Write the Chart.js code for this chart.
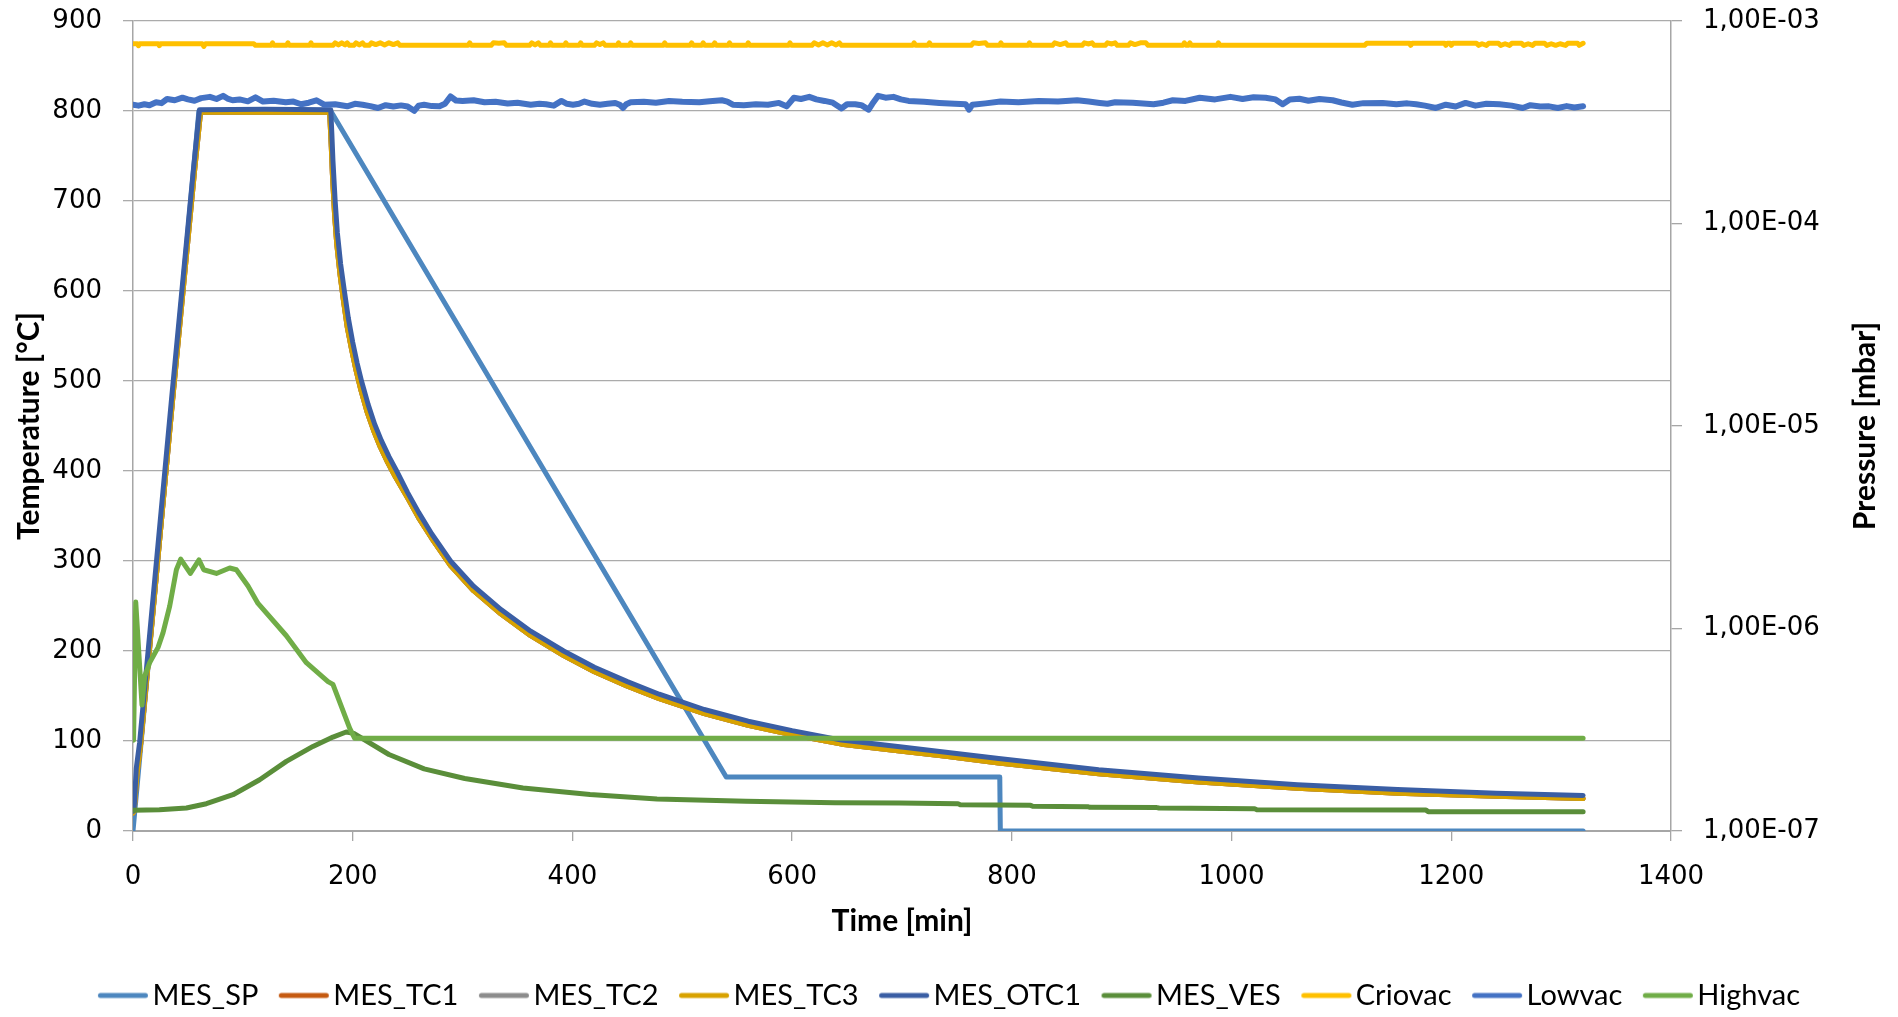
<!DOCTYPE html>
<html>
<head>
<meta charset="utf-8">
<title>Furnace cycle</title>
<script src="https://cdn.jsdelivr.net/npm/chart.js@4.4.1/dist/chart.umd.min.js"></script>
<style>
  html, body { margin: 0; padding: 0; background: #fff; }
  canvas { display: block; }
</style>
</head>
<body>
<canvas id="cycle" width="1898" height="1017"></canvas>
<script>
// Furnace run: temperatures on the left axis (°C), chamber pressures on a log right axis (mbar)

const seriesNames = ['MES_SP', 'MES_TC1', 'MES_TC2', 'MES_TC3', 'MES_OTC1', 'MES_VES', 'Criovac', 'Lowvac', 'Highvac'];
const timeTicks = [0, 200, 400, 600, 800, 1000, 1200, 1400];
const tempTicks = [0, 100, 200, 300, 400, 500, 600, 700, 800, 900];
const pressureTicks = [1e-7, 1e-6, 1e-5, 1e-4, 1e-3];

// every series is a list of [time in min, value]
const mesSP = [[0, 0], [60, 800], [180, 800], [540, 60], [789, 60], [789.5, 0], [1320, 0]];

// TC1..TC3 read the same, so they share one trace
const mesTC = [[0, 20], [1, 22], [3.5, 62], [7, 97], [36, 478], [56, 733], [61.5, 798.5], [179, 798.5],
  [180.5, 760], [181.5, 730], [183.5, 685], [185.5, 652], [188.5, 618], [191.5, 590], [195, 560],
  [199, 535], [203, 512], [207, 492], [213, 466], [219, 445], [225, 427], [232, 409], [239, 393],
  [250, 370], [260, 348], [272, 325], [289, 295], [310, 267], [335, 241], [362, 217], [392, 195],
  [420, 177], [450, 161], [479, 147], [520, 130.5], [560, 117.5], [600, 107], [645, 96.5], [698, 89],
  [740, 83], [788, 75.5], [879, 63.5], [970, 54.5], [1060, 47.5], [1151, 42], [1241, 38.5], [1320, 36]];

const mesOTC1 = [[0, 22], [1, 25], [3, 70], [6, 98], [35, 479], [55, 735], [60.5, 801.5], [120, 802],
  [180, 801.5], [181, 775], [182, 745], [184, 700], [186, 665], [189, 630], [192.4, 600], [196, 570],
  [200, 543], [204, 520], [208, 500], [214, 474], [220, 452], [226, 434], [233, 416], [240, 400],
  [250, 376], [260, 354], [272, 330], [289, 300], [310, 272], [335, 246], [362, 222], [392, 200],
  [420, 182], [450, 166], [479, 152], [520, 135], [560, 122], [600, 111.5], [645, 101], [698, 93.5],
  [740, 87.5], [788, 80.5], [879, 68], [970, 59], [1060, 51.5], [1151, 46], [1241, 42], [1320, 39.5]];

const mesVES = [[0, 23], [24, 23.5], [48.6, 25.5], [66.8, 30.3], [91, 40.3], [115.3, 57], [139.6, 77.4],
  [163.8, 94], [182, 104.4], [194, 110], [201, 108.5], [233, 85], [265, 69], [302, 58.3], [355, 47.8],
  [416, 40.5], [477, 35.5], [558, 33], [639, 31.5], [698, 31], [751, 30.3], [753, 29.2], [817, 28.5],
  [819, 27.4], [869, 27], [871, 26.3], [932, 26], [934, 25.5], [1021, 24.8], [1023, 23.7], [1177, 23.2],
  [1179, 21.5], [1320, 21.5]];

const criovac = [[0, 7.72e-4], [4, 7.72e-4], [5, 7.55e-4], [6, 7.72e-4], [23, 7.72e-4], [24, 7.56e-4],
  [25, 7.72e-4], [63, 7.72e-4], [64.5, 7.5e-4], [66, 7.72e-4], [110, 7.72e-4], [111.5, 7.58e-4],
  [126, 7.58e-4], [127, 7.8e-4], [128, 7.58e-4], [140, 7.58e-4], [141, 7.8e-4], [142, 7.58e-4],
  [161, 7.58e-4], [162, 7.8e-4], [163, 7.58e-4], [182, 7.58e-4], [184, 7.8e-4], [187, 7.62e-4],
  [190, 7.8e-4], [193, 7.62e-4], [195, 7.8e-4], [197, 7.58e-4], [201, 7.58e-4], [203, 7.8e-4],
  [206, 7.62e-4], [209, 7.8e-4], [211, 7.58e-4], [215, 7.58e-4], [217, 7.8e-4], [221, 7.65e-4],
  [225, 7.8e-4], [229, 7.62e-4], [233, 7.8e-4], [237, 7.65e-4], [241, 7.8e-4], [243, 7.58e-4],
  [305, 7.58e-4], [306.5, 7.8e-4], [308, 7.58e-4], [326, 7.58e-4], [328, 7.8e-4], [333, 7.76e-4],
  [338, 7.8e-4], [340, 7.58e-4], [361, 7.58e-4], [363, 7.8e-4], [366, 7.62e-4], [369, 7.8e-4],
  [371, 7.58e-4], [379, 7.58e-4], [380, 7.8e-4], [381.5, 7.58e-4], [393, 7.58e-4], [394, 7.8e-4],
  [395.5, 7.58e-4], [406, 7.58e-4], [407.5, 7.8e-4], [409, 7.58e-4], [420, 7.58e-4], [422, 7.8e-4],
  [425, 7.65e-4], [428, 7.8e-4], [430, 7.58e-4], [441, 7.58e-4], [442, 7.8e-4], [443.5, 7.58e-4],
  [452, 7.58e-4], [453, 7.8e-4], [454.5, 7.58e-4], [483, 7.58e-4], [484, 7.8e-4], [485.5, 7.58e-4],
  [507, 7.58e-4], [508.5, 7.8e-4], [510, 7.58e-4], [518, 7.58e-4], [519, 7.8e-4], [520.5, 7.58e-4],
  [528, 7.58e-4], [529.5, 7.8e-4], [531, 7.58e-4], [542, 7.58e-4], [543, 7.8e-4], [544.5, 7.58e-4],
  [559, 7.58e-4], [560, 7.8e-4], [561.5, 7.58e-4], [597, 7.58e-4], [598, 7.8e-4], [599.5, 7.58e-4],
  [618, 7.58e-4], [620, 7.8e-4], [624, 7.62e-4], [628, 7.8e-4], [632, 7.62e-4], [636, 7.8e-4],
  [640, 7.62e-4], [643, 7.8e-4], [645, 7.58e-4], [710, 7.58e-4], [711, 7.8e-4], [712.5, 7.58e-4],
  [723.5, 7.58e-4], [725, 7.8e-4], [726.5, 7.58e-4], [763, 7.58e-4], [765, 7.8e-4], [770, 7.74e-4],
  [776, 7.8e-4], [778, 7.58e-4], [789, 7.58e-4], [790, 7.8e-4], [791.5, 7.58e-4], [815, 7.58e-4],
  [816, 7.8e-4], [817.5, 7.58e-4], [837, 7.58e-4], [839, 7.8e-4], [844, 7.65e-4], [849, 7.8e-4],
  [851, 7.58e-4], [864, 7.58e-4], [866, 7.8e-4], [870, 7.7e-4], [873, 7.8e-4], [875, 7.58e-4],
  [885, 7.58e-4], [887, 7.8e-4], [891, 7.7e-4], [894, 7.8e-4], [896, 7.58e-4], [906, 7.58e-4],
  [908, 7.8e-4], [912, 7.65e-4], [917, 7.8e-4], [922, 7.8e-4], [924, 7.58e-4], [956, 7.58e-4],
  [957, 7.8e-4], [959, 7.58e-4], [961, 7.58e-4], [962, 7.8e-4], [963.5, 7.58e-4], [987, 7.58e-4],
  [988, 7.8e-4], [989.5, 7.58e-4], [1121, 7.58e-4], [1123, 7.76e-4], [1162, 7.76e-4], [1163, 7.58e-4],
  [1164.5, 7.76e-4], [1194, 7.76e-4], [1195, 7.58e-4], [1196.5, 7.76e-4], [1199, 7.76e-4], [1200, 7.58e-4],
  [1201.5, 7.76e-4], [1223, 7.76e-4], [1225, 7.58e-4], [1228, 7.72e-4], [1232, 7.58e-4], [1234, 7.76e-4],
  [1243, 7.76e-4], [1245, 7.58e-4], [1249, 7.72e-4], [1253, 7.58e-4], [1255, 7.76e-4], [1264, 7.76e-4],
  [1266, 7.58e-4], [1270, 7.72e-4], [1274, 7.58e-4], [1276, 7.76e-4], [1285, 7.76e-4], [1287, 7.58e-4],
  [1291, 7.72e-4], [1295, 7.58e-4], [1299, 7.72e-4], [1304, 7.58e-4], [1306, 7.76e-4], [1315, 7.76e-4],
  [1316.5, 7.58e-4], [1320, 7.76e-4]];

const lowvac = [[0, 3.86e-4], [5, 3.82e-4], [10.4, 3.88e-4], [15, 3.84e-4], [21, 3.97e-4], [26, 3.93e-4],
  [31, 4.12e-4], [38, 4.06e-4], [45, 4.18e-4], [50, 4.1e-4], [56, 4.04e-4], [62, 4.16e-4], [70, 4.22e-4],
  [76, 4.12e-4], [82, 4.27e-4], [86, 4.14e-4], [90.6, 4.06e-4], [97, 4.1e-4], [104.5, 4.01e-4],
  [111.5, 4.2e-4], [118.4, 4.0e-4], [128, 4.04e-4], [139, 3.97e-4], [146, 4.0e-4], [153, 3.88e-4],
  [160, 3.95e-4], [167, 4.06e-4], [174, 3.86e-4], [184, 3.88e-4], [195, 3.79e-4], [202, 3.9e-4],
  [209, 3.86e-4], [216, 3.8e-4], [223, 3.72e-4], [230, 3.84e-4], [237, 3.78e-4], [244, 3.83e-4],
  [250, 3.78e-4], [256, 3.6e-4], [260, 3.82e-4], [265, 3.86e-4], [272, 3.8e-4], [279, 3.79e-4],
  [284, 3.9e-4], [289, 4.24e-4], [294, 4.05e-4], [300, 4.03e-4], [310, 4.06e-4], [320, 3.97e-4],
  [330, 3.99e-4], [341, 3.91e-4], [350, 3.95e-4], [362, 3.86e-4], [370, 3.9e-4], [376, 3.88e-4],
  [383, 3.82e-4], [390, 4.03e-4], [395, 3.9e-4], [400.5, 3.86e-4], [406, 3.9e-4], [411, 4.0e-4],
  [418, 3.9e-4], [425, 3.86e-4], [432, 3.9e-4], [439, 3.94e-4], [443, 3.86e-4], [446, 3.72e-4],
  [449, 3.88e-4], [453, 3.97e-4], [465, 3.99e-4], [476, 3.95e-4], [488, 4.03e-4], [500, 3.99e-4],
  [515.5, 3.97e-4], [525, 4.02e-4], [536, 4.06e-4], [541, 4.0e-4], [546, 3.86e-4], [556, 3.84e-4],
  [567, 3.88e-4], [578, 3.86e-4], [588, 3.94e-4], [595, 3.79e-4], [601.6, 4.18e-4], [608, 4.12e-4],
  [615.6, 4.22e-4], [622, 4.1e-4], [629.5, 4.03e-4], [637, 3.95e-4], [645, 3.7e-4], [650, 3.88e-4],
  [657.4, 3.88e-4], [663, 3.84e-4], [669.6, 3.65e-4], [673, 3.9e-4], [678.3, 4.27e-4], [685, 4.18e-4],
  [692.2, 4.22e-4], [699, 4.1e-4], [706, 4.03e-4], [720, 3.99e-4], [734, 3.94e-4], [748, 3.9e-4],
  [758, 3.88e-4], [761, 3.65e-4], [764, 3.86e-4], [776, 3.92e-4], [789.7, 4.0e-4], [806, 3.97e-4],
  [824.5, 4.03e-4], [842, 4.0e-4], [859.4, 4.06e-4], [870, 4.0e-4], [880, 3.94e-4], [887, 3.9e-4],
  [894, 3.97e-4], [910, 3.95e-4], [929, 3.88e-4], [938, 3.95e-4], [946.5, 4.06e-4], [958, 4.03e-4],
  [971, 4.18e-4], [985, 4.1e-4], [999, 4.22e-4], [1010, 4.12e-4], [1020, 4.2e-4], [1031, 4.18e-4],
  [1040, 4.1e-4], [1046.5, 3.88e-4], [1053, 4.1e-4], [1061.7, 4.13e-4], [1070, 4.04e-4], [1080, 4.12e-4],
  [1092, 4.06e-4], [1100, 3.96e-4], [1110, 3.86e-4], [1120, 3.93e-4], [1137.5, 3.94e-4], [1150, 3.88e-4],
  [1160, 3.92e-4], [1168, 3.88e-4], [1176, 3.82e-4], [1186, 3.72e-4], [1195, 3.86e-4], [1204, 3.78e-4],
  [1213, 3.94e-4], [1222, 3.82e-4], [1232, 3.9e-4], [1244, 3.88e-4], [1255, 3.82e-4], [1265, 3.72e-4],
  [1272, 3.84e-4], [1281, 3.78e-4], [1289, 3.79e-4], [1297, 3.72e-4], [1305, 3.8e-4], [1312, 3.74e-4],
  [1320, 3.79e-4]];

const highvac = [[0.5, 2.81e-7], [2.5, 1.35e-6], [8.2, 4.19e-7], [10.6, 5.8e-7], [15.2, 6.78e-7],
  [22.8, 8.07e-7], [27.3, 9.51e-7], [33.4, 1.29e-6], [39.5, 1.95e-6], [43.4, 2.2e-6], [52.2, 1.87e-6],
  [60.1, 2.18e-6], [64.4, 1.95e-6], [75.9, 1.87e-6], [88, 1.99e-6], [94.1, 1.95e-6], [104.7, 1.62e-6],
  [113.8, 1.33e-6], [139.6, 9.21e-7], [157.8, 6.78e-7], [177.5, 5.47e-7], [182, 5.3e-7],
  [197.3, 3.21e-7], [201.8, 2.87e-7], [1320, 2.87e-7]];

const seriesData = [mesSP, mesTC, mesTC, mesTC, mesOTC1, mesVES, criovac, lowvac, highvac];
const seriesColors = ['#4d87bf', '#c55a11', '#8c8c8c', '#d8a200', '#3a5ea4', '#5a8e3a', '#ffc000', '#4472c4', '#70ad47'];
const seriesWidths = [5, 5, 5, 5, 5, 5, 5, 6, 5];
const pressureSeries = ['Criovac', 'Lowvac', 'Highvac'];

const tickFont = { family: 'DejaVu Sans', size: 26 };
const titleFont = { family: 'Lato', size: 30, weight: 'bold' };
const axisGray = '#a6a6a6';

function sciLabel(v) {
  const [m, e] = Number(v).toExponential(2).split('e');
  const exp = parseInt(e, 10);
  return m.replace('.', ',') + 'E' + (exp < 0 ? '-' : '+') + String(Math.abs(exp)).padStart(2, '0');
}

function useTicks(list) {
  return scale => { scale.ticks = list.map(value => ({ value })); };
}

// fixed axis sizes; drop the label overhang padding so the plot keeps its own frame
function fixWidth(w) {
  return s => { s.width = w; s.paddingTop = 0; s.paddingBottom = 0; };
}

// legend key: a short line sitting close to its text
function legendSwatch(color) {
  const c = document.createElement('canvas');
  c.width = 120;
  c.height = 12;
  const g = c.getContext('2d');
  g.strokeStyle = color;
  g.lineWidth = 5;
  g.lineCap = 'round';
  g.beginPath();
  g.moveTo(42.5, 6);
  g.lineTo(87.5, 6);
  g.stroke();
  return c;
}

// the right-hand title reads bottom-to-top, which Chart.js does not do for right axes
const pressureTitle = {
  id: 'pressureTitle',
  afterDraw(chart) {
    const { ctx, chartArea } = chart;
    ctx.save();
    ctx.translate(chart.width - 33, (chartArea.top + chartArea.bottom) / 2);
    ctx.rotate(-Math.PI / 2);
    ctx.font = 'bold 30px Lato';
    ctx.fillStyle = '#000';
    ctx.textAlign = 'center';
    ctx.textBaseline = 'middle';
    ctx.fillText('Pressure [mbar]', 0, 0);
    ctx.restore();
  }
};

const datasets = seriesNames.map((name, i) => ({
  label: name,
  data: seriesData[i],
  yAxisID: pressureSeries.includes(name) ? 'y2' : 'y',
  borderColor: seriesColors[i],
  backgroundColor: seriesColors[i],
  borderWidth: seriesWidths[i],
  borderCapStyle: 'round',
  borderJoinStyle: 'round',
  pointRadius: 0,
  pointStyle: legendSwatch(seriesColors[i]),
  tension: 0,
  // later series sit on top
  order: seriesNames.length - i
}));

new Chart(document.getElementById('cycle'), {
  type: 'line',
  data: { datasets },
  plugins: [pressureTitle],
  options: {
    responsive: false,
    animation: false,
    events: [],
    layout: { padding: { top: 21, left: 0, right: 0, bottom: -3 } },
    plugins: {
      tooltip: { enabled: false },
      legend: {
        position: 'bottom',
        labels: {
          usePointStyle: true,
          pointStyleWidth: 40,
          padding: 20.5,
          color: '#000',
          font: { family: 'Lato', size: 29 },
          sort: (a, b) => a.datasetIndex - b.datasetIndex
        }
      }
    },
    scales: {
      x: {
        type: 'linear',
        min: timeTicks[0],
        max: timeTicks[timeTicks.length - 1],
        afterBuildTicks: useTicks(timeTicks),
        afterFit: s => { s.height = 129.5; s.paddingLeft = 0; s.paddingRight = 0; },
        grid: { drawOnChartArea: false, tickLength: 10, color: axisGray, lineWidth: 1.3 },
        border: { color: axisGray, width: 2 },
        ticks: { font: tickFont, color: '#000', padding: 21, maxRotation: 0, callback: v => String(v) },
        title: { display: true, text: 'Time [min]', font: titleFont, color: '#000', padding: { top: 0, bottom: 21.5 } }
      },
      y: {
        position: 'left',
        min: tempTicks[0],
        max: tempTicks[tempTicks.length - 1],
        afterBuildTicks: useTicks(tempTicks),
        afterFit: fixWidth(133),
        grid: { color: '#ababab', lineWidth: 1.3, tickLength: 10 },
        border: { color: axisGray, width: 1.5 },
        ticks: { font: tickFont, color: '#000', padding: 21, callback: v => String(v) },
        title: { display: true, text: 'Temperature [°C]', font: titleFont, color: '#000', padding: { top: 11, bottom: 0 } }
      },
      y2: {
        type: 'logarithmic',
        position: 'right',
        min: pressureTicks[0],
        max: pressureTicks[pressureTicks.length - 1],
        afterBuildTicks: useTicks(pressureTicks),
        afterFit: fixWidth(227),
        grid: { drawOnChartArea: false, tickLength: 11, color: axisGray, lineWidth: 1.3 },
        border: { color: axisGray, width: 1.5 },
        ticks: { font: tickFont, color: '#000', padding: 21, callback: sciLabel }
      }
    }
  }
});
</script>
</body>
</html>
